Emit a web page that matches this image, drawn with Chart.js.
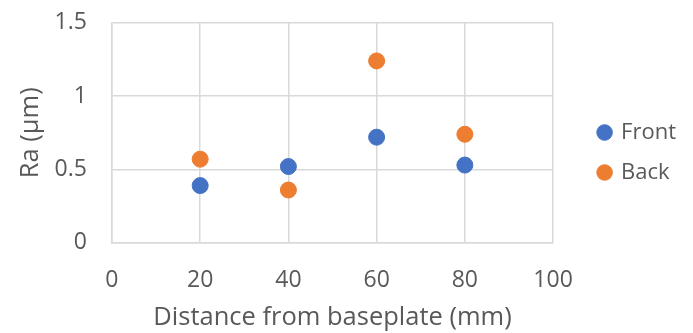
<!DOCTYPE html>
<html>
<head>
<meta charset="utf-8">
<script src="https://cdn.jsdelivr.net/npm/chart.js@4"></script>
<style>
  html, body { margin: 0; padding: 0; background: #fff; }
  #wrap { width: 693px; height: 333px; }
</style>
</head>
<body>
<div id="wrap"><canvas id="raChart" width="693" height="333"></canvas></div>
<script>
// Ra theo khoảng cách từ baseplate
const distances = [20, 40, 60, 80];
const frontRa = [0.39, 0.52, 0.72, 0.53];
const backRa = [0.57, 0.36, 1.24, 0.74];
const xTicks = [0, 20, 40, 60, 80, 100];
const yTicks = [0, 0.5, 1, 1.5];

const toPoints = (xs, ys) => xs.map((x, i) => ({ x: x, y: ys[i] }));
const textColor = '#595959';
const gridColor = '#d9d9d9';
const fontFamily = '"Open Sans", sans-serif';

// đẩy legend sang phải / lên trên sau khi chia bố cục
const legendShift = { dx: 28, dy: -18 };
const moveLegend = {
  id: 'moveLegend',
  afterLayout(chart) {
    const lg = chart.legend;
    if (!lg) return;
    lg.left += legendShift.dx;
    lg.right += legendShift.dx;
    lg.top += legendShift.dy;
    lg.bottom += legendShift.dy;
  }
};

const ctx = document.getElementById('raChart');
new Chart(ctx.getContext('2d'), {
  type: 'scatter',
  data: {
    datasets: [
      {
        label: 'Front',
        data: toPoints(distances, frontRa),
        backgroundColor: '#4472c4',
        borderColor: '#4472c4',
        pointRadius: 8,
        pointHoverRadius: 8
      },
      {
        label: 'Back',
        data: toPoints(distances, backRa),
        backgroundColor: '#ed7d31',
        borderColor: '#ed7d31',
        pointRadius: 8,
        pointHoverRadius: 8
      }
    ]
  },
  options: {
    responsive: false,
    animation: false,
    layout: { padding: { top: 8, right: 35, left: 15, bottom: 0 } },
    scales: {
      x: {
        type: 'linear',
        min: xTicks[0],
        max: xTicks[xTicks.length - 1],
        afterBuildTicks: axis => { axis.ticks = xTicks.map(v => ({ value: v })); },
        // tick trong suốt, chỉ để đẩy nhãn ra xa
        grid: { color: gridColor, lineWidth: 1.5, drawTicks: true, tickLength: 16, tickColor: 'rgba(0,0,0,0)' },
        border: { color: gridColor, width: 1.5 },
        ticks: { color: textColor, padding: 8, font: { family: fontFamily, size: 23 } },
        title: {
          display: true,
          text: 'Distance from baseplate (mm)',
          color: textColor,
          padding: { top: 0, bottom: 0 },
          font: { family: fontFamily, size: 25.5 }
        }
      },
      y: {
        min: yTicks[0],
        max: yTicks[yTicks.length - 1],
        afterBuildTicks: axis => { axis.ticks = yTicks.map(v => ({ value: v })); },
        grid: { color: gridColor, lineWidth: 1.5, drawTicks: true, tickLength: 16, tickColor: 'rgba(0,0,0,0)' },
        border: { color: gridColor, width: 1.5 },
        ticks: {
          color: textColor,
          padding: 9,
          font: { family: fontFamily, size: 23 },
          callback: value => String(value)
        },
        title: {
          display: true,
          text: 'Ra (µm)',
          color: textColor,
          padding: { top: 0, bottom: 0 },
          font: { family: fontFamily, size: 25.5 }
        }
      }
    },
    plugins: {
      legend: {
        position: 'right',
        labels: {
          usePointStyle: true,
          pointStyle: 'circle',
          boxWidth: 11,
          boxHeight: 11,
          padding: 18,
          color: textColor,
          font: { family: fontFamily, size: 22 }
        }
      },
      tooltip: { enabled: false }
    }
  },
  plugins: [moveLegend]
});
</script>
</body>
</html>
